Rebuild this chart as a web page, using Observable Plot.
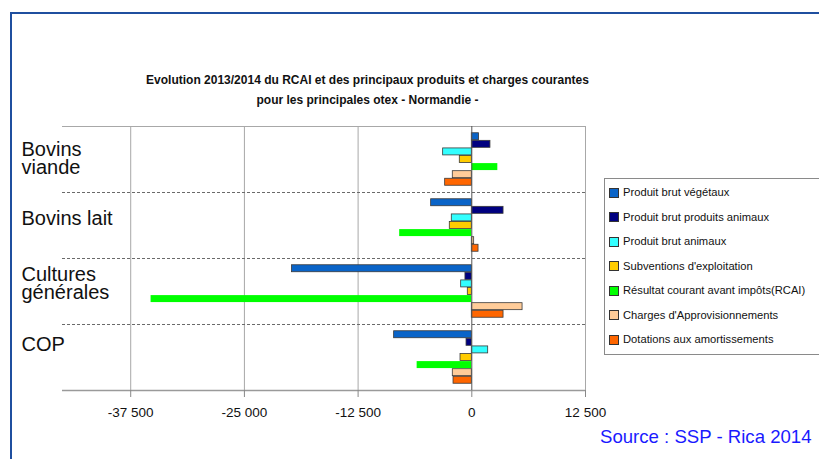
<!DOCTYPE html>
<html>
<head>
<meta charset="utf-8">
<script src="https://cdn.jsdelivr.net/npm/d3@7"></script>
<script src="https://cdn.jsdelivr.net/npm/@observablehq/plot@0.6"></script>
<style>
  html, body { margin: 0; padding: 0; background: #fff; }
  #page { position: relative; width: 819px; height: 459px; overflow: hidden; font-family: "Liberation Sans", Arial, sans-serif; background:#fff; }
  #frame { position: absolute; left: 10px; top: 12px; width: 900px; height: 500px; border-top: 2.5px solid #1f4f9f; border-left: 2.5px solid #1f4f9f; }
  #chart { position: absolute; left: 0; top: 0; }
  #title { position: absolute; left: 0; top: 70px; width: 735px; text-align: center; font-size: 12px; font-weight: bold; line-height: 20px; color: #111; }
  #legend { position: absolute; left: 604px; top: 178px; width: 240px; height: 175px; border: 1px solid #8a8a8a; background: #fff; }
  .li { position: absolute; left: 0; height: 14px; font-size: 11.2px; line-height: 14px; color: #111; white-space: nowrap; }
  .sw { position: absolute; left: 4px; top: 2.5px; width: 8px; height: 8px; border: 0.8px solid #333; }
  .lt { position: absolute; left: 18px; top: 0; }
  #source { position: absolute; left: 600px; top: 426px; font-size: 18.6px; color: #1a1aff; white-space: nowrap; }
</style>
</head>
<body>
<div id="page">
  <div id="frame"></div>
  <div id="chart"></div>
  <div id="title">Evolution 2013/2014 du RCAI et des principaux produits et charges courantes<br>pour les principales otex - Normandie -</div>
  <div id="legend"></div>
  <div id="source">Source : SSP - Rica 2014</div>
</div>
<script>
// ---- data ----
const groups = ["Bovins viande", "Bovins lait", "Cultures générales", "COP"];
const groupLabels = ["Bovins\nviande", "Bovins lait", "Cultures\ngénérales", "COP"];
const series = [
  "Produit brut végétaux",
  "Produit brut produits animaux",
  "Produit brut animaux",
  "Subventions d'exploitation",
  "Résultat courant avant impôts(RCAI)",
  "Charges d'Approvisionnements",
  "Dotations aux amortissements"
];
const colors = ["#0a64c8", "#000080", "#33ffff", "#ffcc00", "#00ff00", "#ffcc99", "#ff6600"];
// values per series, in order of groups
const produitBrutVegetaux   = [800, -4470, -19770, -8540];
const produitBrutProdAnim   = [2050, 3490, -700, -580];
const produitBrutAnimaux    = [-3150, -2200, -1170, 1800];
const subventions           = [-1320, -2420, -440, -1240];
const rcai                  = [2860, -7930, -35260, -6010];
const chargesAppro          = [-2090, 260, 5580, -2090];
const dotations             = [-2930, 740, 3490, -2010];
const seriesValues = [produitBrutVegetaux, produitBrutProdAnim, produitBrutAnimaux, subventions, rcai, chargesAppro, dotations];
const xTicks = [-37500, -25000, -12500, 0, 12500];
const xDomain = [-45000, 12500];

// ---- layout (slot units on y) ----
const G = 8.7;       // slots per group
const PAD = 0.85;    // top padding inside a group
const BAR = 0.92;    // bar thickness in slots
const labelDy = [0, -6, -7, -12.5];

const rows = [];
groups.forEach((g, gi) => {
  series.forEach((s, si) => {
    const y1 = gi * G + PAD + si + (1 - BAR) / 2;
    rows.push({group: g, series: s, value: seriesValues[si][gi], y1, y2: y1 + BAR});
  });
});
const rcaiName = series[4];

const fmt = d => d3.format(",")(d).replace(/,/g, " ").replace("\u2212", "-");

const marks = [
  Plot.ruleX(xTicks.filter(d => d !== 0), {stroke: "#a8a8a8", strokeWidth: 1}),
  Plot.ruleY([0], {stroke: "#a8a8a8", strokeWidth: 1}),
  Plot.ruleY([G, 2 * G, 3 * G], {stroke: "#6a6a6a", strokeWidth: 1, strokeDasharray: "3,2"}),
  Plot.ruleY([4 * G], {stroke: "#9a9a9a", strokeWidth: 1.5}),
  Plot.rectX(rows.filter(d => d.series !== rcaiName), {x: "value", y1: "y1", y2: "y2", fill: "series", stroke: "#3a3a3a", strokeWidth: 0.8}),
  Plot.rectX(rows.filter(d => d.series === rcaiName), {x: "value", y1: "y1", y2: "y2", fill: "series"}),
  Plot.ruleX([0], {stroke: "#555", strokeWidth: 1}),
  Plot.axisX(xTicks, {tickSize: 7, tickPadding: 10, tickFormat: fmt, fontSize: 13.5, stroke: "#888", color: "#111", label: null}),
  ...groups.map((g, i) => Plot.text([groupLabels[i]], {
    y: i * G + G / 2, frameAnchor: "left", dx: -41, dy: labelDy[i],
    textAnchor: "start", lineAnchor: "middle", lineHeight: 0.88, fontSize: 20, fill: "#111"
  }))
];

const chart = Plot.plot({
  width: 819,
  height: 459,
  marginTop: 126,
  marginBottom: 69,
  marginLeft: 62,
  marginRight: 234,
  style: {fontFamily: '"Liberation Sans", Arial, sans-serif', background: "transparent", overflow: "visible"},
  x: {domain: xDomain, axis: null},
  y: {domain: [0, 4 * G], reverse: true, axis: null},
  color: {domain: series, range: colors},
  marks
});
document.getElementById("chart").appendChild(chart);

// legend (HTML)
const legend = document.getElementById("legend");
series.forEach((s, i) => {
  const item = document.createElement("div");
  item.className = "li";
  item.style.top = (6 + i * 24.5) + "px";
  const sw = document.createElement("span");
  sw.className = "sw";
  sw.style.background = colors[i];
  const t = document.createElement("span");
  t.className = "lt";
  t.textContent = s;
  item.appendChild(sw);
  item.appendChild(t);
  legend.appendChild(item);
});
</script>
</body>
</html>
